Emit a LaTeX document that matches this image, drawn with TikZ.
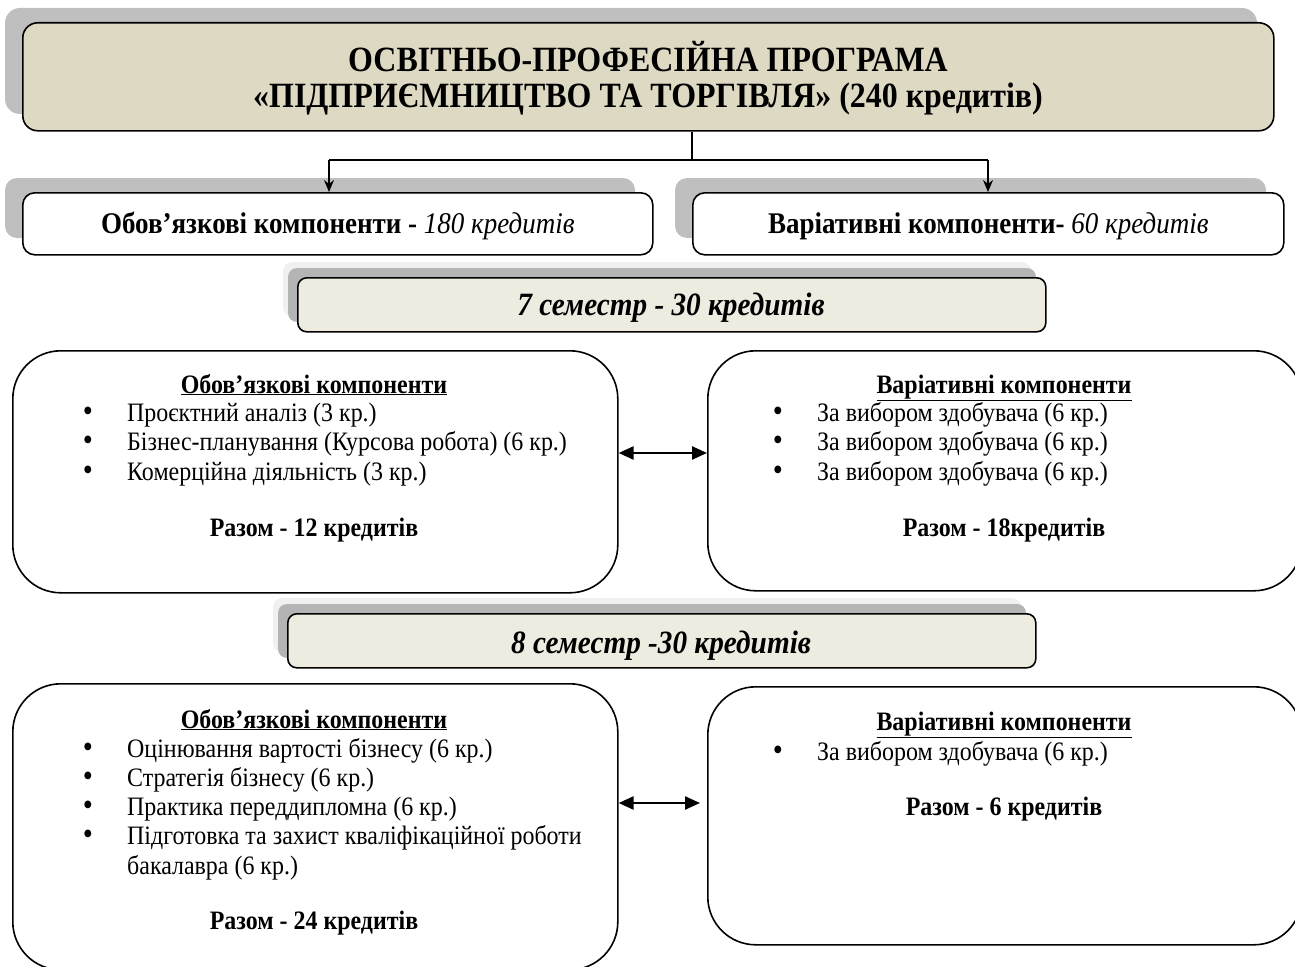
\documentclass[tikz,border=0pt]{standalone}
\usepackage{fontspec}
\setmainfont{Liberation Serif}[FakeStretch=0.9]
\usetikzlibrary{arrows.meta}
\definecolor{titlefill}{HTML}{DDD9C3}
\definecolor{semfill}{HTML}{EEECE1}
\definecolor{shadowgray}{HTML}{BFBFBF}
\definecolor{shadowdark}{HTML}{B4B4B4}
\definecolor{shadowlight}{HTML}{F0F0F0}
\begin{document}
\begin{tikzpicture}[x=1pt,y=-1pt,
  box/.style={draw=black, line width=1.6pt, inner sep=0pt, anchor=north west},
  bigbox/.style={box, fill=white, rounded corners=48pt},
  compbox/.style={box, fill=white, rounded corners=12pt, minimum height=62pt},
  sembox/.style={box, fill=semfill, rounded corners=9pt, minimum width=748pt, minimum height=54pt},
  txt/.style={inner sep=0pt, font=\fontsize{26.6}{30}\selectfont},
  itemtxt/.style={txt, anchor=base west},
  bul/.style={txt, anchor=base, font=\fontsize{32}{32}\selectfont},
  headtxt/.style={txt, anchor=base, font=\fontsize{26.6}{30}\selectfont\bfseries},
  semtxt/.style={inner sep=0pt, anchor=base, font=\fontsize{32.5}{36}\selectfont\bfseries\itshape},
  comptxt/.style={inner sep=0pt, anchor=base, font=\fontsize{30}{34}\selectfont},
  titletxt/.style={inner sep=0pt, anchor=base, font=\fontsize{35.5}{40}\selectfont\bfseries},
  conn/.style={line width=1.1pt, draw=black},
  dbl/.style={line width=2.4pt, {Triangle[length=15pt,width=13pt]}-{Triangle[length=15pt,width=13pt]}},
  down/.style={conn, -{Stealth[length=12pt,width=10pt]}}
]
\useasboundingbox (0,0) rectangle (1295,966);
% ---------- title
\fill[shadowgray, rounded corners=15pt] (5,8) rectangle (1257,114);
\node[box, fill=titlefill, rounded corners=15pt, minimum width=1251pt, minimum height=108pt] (title) at (22,22) {};
\node[titletxt] (t1) at (648,71) {ОСВІТНЬО-ПРОФЕСІЙНА ПРОГРАМА};
\node[titletxt] (t2) at (648,107) {«ПІДПРИЄМНИЦТВО ТА ТОРГІВЛЯ» (240 кредитів)};
% ---------- component boxes
\fill[shadowgray, rounded corners=12pt] (5,178) rectangle (635,238);
\fill[shadowgray, rounded corners=12pt] (675,178) rectangle (1266,238);
\node[compbox, minimum width=630pt] (ob) at (22,192) {};
\node[compbox, minimum width=591pt] (var) at (692,192) {};
\node[comptxt] (obt) at (ob.center |- 0,233) {\textbf{Обов’язкові компоненти -} \textit{180 кредитів}};
\node[comptxt] (vart) at (var.center |- 0,233) {\textbf{Варіативні компоненти-} \textit{60 кредитів}};
% connectors
\coordinate (j) at (692,160);
\coordinate (la) at (329,160);
\coordinate (ra) at (988,160);
\draw[conn] (title.south -| j) -- (j);
\draw[conn] (la) -- (ra);
\draw[down] (la) -- (la |- ob.north);
\draw[down] (ra) -- (ra |- var.north);
% ---------- semester 7
\fill[shadowlight, rounded corners=9pt] (283,262) rectangle (1031,316);
\fill[shadowdark, rounded corners=9pt] (288,268) rectangle (1036,322);
\node[sembox] (s7) at (297,277) {};
\node[semtxt] (s7t) at (671,315.5) {7 семестр - 30 кредитів};
% boxes 7
\node[bigbox, minimum width=605pt, minimum height=242pt] (b7l) at (12,350) {};
\node[bigbox, minimum width=594pt, minimum height=240pt] (b7r) at (707,350) {};
\node[headtxt] (h7l) at (314,393) {\underline{Обов’язкові компоненти}};
\node[bul] (p7l1) at (88,421) {•};
\node[itemtxt] (i7l1) at (127,421) {Проєктний аналіз (3 кр.)};
\node[bul] (p7l2) at (88,450.5) {•};
\node[itemtxt] (i7l2) at (127,450.5) {Бізнес-планування (Курсова робота) (6 кр.)};
\node[bul] (p7l3) at (88,480) {•};
\node[itemtxt] (i7l3) at (127,480) {Комерційна діяльність (3 кр.)};
\node[headtxt] (r7l) at (314,536) {Разом - 12 кредитів};
\node[headtxt] (h7r) at (1004,393) {\underline{Варіативні компоненти}};
\node[bul] (p7r1) at (778,421) {•};
\node[itemtxt] (i7r1) at (817,421) {За вибором здобувача (6 кр.)};
\node[bul] (p7r2) at (778,450.5) {•};
\node[itemtxt] (i7r2) at (817,450.5) {За вибором здобувача (6 кр.)};
\node[bul] (p7r3) at (778,480) {•};
\node[itemtxt] (i7r3) at (817,480) {За вибором здобувача (6 кр.)};
\node[headtxt] (r7r) at (1004,536) {Разом - 18кредитів};
\coordinate (a7) at (0,453);
\draw[dbl] (b7l.east |- a7) -- (b7r.west |- a7);
% ---------- semester 8
\fill[shadowlight, rounded corners=9pt] (273,598) rectangle (1021,652);
\fill[shadowdark, rounded corners=9pt] (278,604) rectangle (1026,658);
\node[sembox] (s8) at (287,613) {};
\node[semtxt] (s8t) at (661,653) {8 семестр -30 кредитів};
% boxes 8
\node[bigbox, minimum width=605pt, minimum height=286pt] (b8l) at (12,683) {};
\node[bigbox, minimum width=594pt, minimum height=258pt] (b8r) at (707,686) {};
\node[headtxt] (h8l) at (314,728) {\underline{Обов’язкові компоненти}};
\node[bul] (p8l1) at (88,757) {•};
\node[itemtxt] (i8l1) at (127,757) {Оцінювання вартості бізнесу (6 кр.)};
\node[bul] (p8l2) at (88,786) {•};
\node[itemtxt] (i8l2) at (127,786) {Стратегія бізнесу (6 кр.)};
\node[bul] (p8l3) at (88,815) {•};
\node[itemtxt] (i8l3) at (127,815) {Практика переддипломна (6 кр.)};
\node[bul] (p8l4) at (88,844) {•};
\node[itemtxt] (i8l4) at (127,844) {Підготовка та захист кваліфікаційної роботи};
\node[itemtxt] (i8l5) at (127,874) {бакалавра (6 кр.)};
\node[headtxt] (r8l) at (314,929) {Разом - 24 кредитів};
\node[headtxt] (h8r) at (1004,730) {\underline{Варіативні компоненти}};
\node[bul] (p8r1) at (778,760) {•};
\node[itemtxt] (i8r1) at (817,760) {За вибором здобувача (6 кр.)};
\node[headtxt] (r8r) at (1004,815) {Разом - 6 кредитів};
\coordinate (a8) at (0,803);
\draw[dbl] (b8l.east |- a8) -- ([xshift=-7pt]b8r.west |- a8);
\end{tikzpicture}
\end{document}
